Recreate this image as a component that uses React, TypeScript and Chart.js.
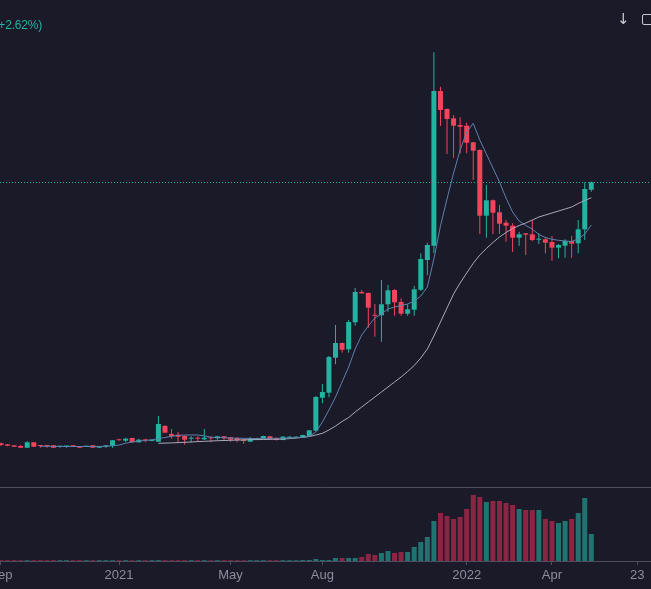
import React, { useEffect, useRef } from 'react';
import { Chart, registerables } from 'chart.js';

Chart.register(...registerables);

// ---- data (weekly candles, price units, volume units) ----
const open = [
  56.7, 55.7, 54.7, 54, 52.3, 57.7, 54.7, 54.7, 54.7, 53.3,
  53.5, 54.7, 53.7, 53.3, 54.7, 52.3, 53.3, 54.3, 60.3, 59.3,
  62, 57.7, 60, 59, 58.3, 74, 66, 65.3, 64, 61.3,
  61.7, 60.7, 62.3, 61.7, 63.7, 62.7, 62, 60.7, 58.3, 60.3,
  61.3, 63.7, 62, 60, 62.3, 62.3, 62.7, 64, 69.3, 102.3,
  107.3, 142.3, 157, 150.7, 177.7, 208, 207, 184.8, 184.7, 195.7,
  210, 198, 186.3, 190.3, 210.3, 240, 254.3, 409, 391, 381.7,
  375, 374.3, 357.7, 350, 284.3, 299.7, 287.7, 277.3, 274.3, 262.3,
  266.7, 265.7, 260.3, 260.7, 258, 252.3, 254.3, 259, 256.7, 270.7, 310.3,
];
const high = [
  57.5, 56, 55, 55, 58.7, 58, 55, 55, 55, 54.3,
  54.3, 55, 54, 54.3, 55, 54, 55, 60, 61.3, 62.3,
  62.3, 61.3, 61.3, 60.5, 84, 75, 71, 68, 64.5, 63.7,
  63.7, 71, 63.7, 64, 64, 63, 63, 61, 63, 62.3,
  64.3, 64, 62.5, 64, 63.7, 63.7, 65.3, 70, 104, 116,
  144, 175, 157.5, 180, 212, 210, 207.5, 196, 220, 215,
  211, 201.7, 195.7, 214, 246.7, 257.3, 447.7, 413.3, 391.5, 385,
  382.7, 377.3, 358, 350.5, 315, 300.5, 295, 280, 276.7, 268.3,
  267, 280, 266.7, 263.3, 264, 256, 260.7, 264, 280, 317.7, 318.5,
];
const low = [
  54, 53.7, 53, 52, 52, 53, 52.3, 52.3, 52, 52.3,
  52.3, 53, 52, 53, 52, 52, 52.3, 52.3, 59.5, 57.7,
  57.5, 57.3, 57.7, 58.7, 58, 67, 61.3, 58, 55.3, 57.7,
  58.3, 60, 57.7, 60.3, 60, 58.3, 57.7, 56.3, 58, 60,
  61, 60.3, 59.5, 59.7, 61.7, 62, 62.3, 63.7, 69, 96.7,
  102.7, 135.7, 147.3, 147.3, 174.3, 206, 172.3, 163.3, 158.3, 188.3,
  184.3, 184.3, 184.3, 184.3, 209, 225, 247, 374, 346, 342.3,
  346.7, 346.7, 320, 266, 262.3, 266, 266, 258.3, 248, 254.3,
  245, 258.7, 256, 246.7, 239.3, 241.7, 242.3, 242.3, 246.7, 260, 308.3,
];
const close = [
  55, 54.3, 53.3, 52.3, 57.7, 53.3, 54, 54, 52.3, 54,
  54, 53.3, 52.3, 54, 52.3, 53.7, 54.7, 59.7, 59.7, 61.3,
  57.7, 60.3, 59.6, 60.3, 76, 67.3, 64, 63.3, 60.3, 61.7,
  61.3, 62.3, 61.7, 63.7, 61.7, 60.3, 60, 59, 61.3, 62,
  64, 60.7, 60, 63.3, 63, 63.3, 65, 69.7, 103, 108,
  143, 157, 150.3, 178, 208, 206.7, 192.3, 184.3, 195.7, 209.7,
  197.7, 186.3, 190.7, 210.7, 241, 255, 409, 390, 381, 374.3,
  373.3, 357.3, 349.3, 284.3, 299.7, 287.3, 276.3, 274.3, 262.3, 265.7,
  265.3, 260, 261, 257.3, 252.3, 255, 259, 256.3, 270.7, 311, 317.7,
];
const volume = [
  0.8, 0.8, 0.8, 0.8, 0.8, 0.8, 0.8, 0.8, 0.8, 0.8,
  0.8, 0.8, 0.8, 0.8, 0.8, 0.8, 0.8, 0.8, 0.8, 0.8,
  0.8, 0.8, 0.8, 0.8, 0.9, 0.9, 0.8, 0.8, 0.8, 0.8,
  0.8, 0.8, 0.8, 0.8, 0.8, 0.8, 0.8, 0.8, 0.8, 0.8,
  0.8, 0.8, 0.8, 0.8, 0.8, 0.8,
  1, 1, 2, 1, 1, 3, 3, 3, 3, 4,
  7, 6, 8, 10, 8, 9, 9, 14, 19, 24,
  40, 48, 45, 42, 44, 52, 66, 64, 59, 60,
  60, 58, 56, 52, 51, 51, 51, 42, 40, 38,
  40, 42, 48, 63, 27,
];
// moving average 7 (from candle 6) and 25 (from candle 24)
const ma7 = [
  null, null, null, null, null, null,
  53.7, 53.7, 53.7, 53.5, 53.5, 53.5, 53.5, 53.5, 53.5, 53.5,
  53.7, 54.2, 55, 56.7, 58, 58.9, 59.6, 60.1, 61.4, 62.5,
  63.7, 64.6, 65, 65, 65, 64.2, 62.7, 62.5, 62.3, 62,
  61.7, 61.7, 61.5, 61.5, 61.7, 61.7, 61.7, 61.7, 62, 62.3,
  62.5, 63.7, 68, 78, 90, 103, 118, 133, 151, 165,
  174, 182, 186, 191, 193, 194.5, 196, 199, 204, 213,
  241, 274, 301, 327, 350, 368, 376.7, 360, 346, 332,
  318, 302, 288, 279, 274.5, 271, 265.5, 262.5, 260.7, 259.7,
  259, 258.5, 261, 266, 275,
];
const ma25 = [
  null, null, null, null, null, null, null, null, null, null,
  null, null, null, null, null, null, null, null, null, null,
  null, null, null, null,
  56.7, 56.9, 57.1, 57.4, 57.7, 58, 58.4, 58.7, 59, 59.3,
  59.5, 59.7, 59.9, 60.1, 60.3, 60.4, 60.5, 60.7, 60.8, 61,
  61.4, 62, 62.7, 63.5, 65, 66.7, 70, 74, 78.5, 82.5,
  88, 93, 98, 103, 108, 113, 118, 123, 128.5, 134.5,
  142, 151, 164, 178, 192, 206, 217, 227, 236.7, 245,
  251.5, 257.5, 263, 267.5, 271.5, 274.5, 277, 280, 283, 285,
  287, 289, 291, 293, 296.5, 299.5, 302.3,
];
const tickLabels = ['Sep', '2021', 'May', 'Aug', '2022', 'Apr', '23'];
const tickIndex = [0, 18, 35, 49, 71, 84, 97];
const changeText = '(+2.62%)';

// ---- styles ----
const BG = '#1a1a29';
const TEAL = '#23b3a0';
const RED = '#f2445b';
const VOL_TEAL = '#1f7370';
const VOL_RED = '#8c2444';
const AXIS = '#4e4e5e';
const LABEL = '#8c8c9c';
const FONT = "'Liberation Sans', Arial, sans-serif";
const PAD_LEFT = 20;
const VOL_PANE_TOP = 74;

export default function App() {
  const ref = useRef<HTMLCanvasElement>(null);

  useEffect(() => {
    document.body.style.margin = '0';
    document.body.style.background = BG;
    const idx = close.map((_, i) => i);
    const up = idx.map((i) => close[i] >= open[i]);
    const bodyColors = up.map((u) => (u ? TEAL : RED));
    const volColors = up.map((u) => (u ? VOL_TEAL : VOL_RED));
    const lastClose = close[close.length - 1];

    const panes = {
      id: 'panes',
      beforeDatasetsDraw(chart: any) {
        const { ctx, chartArea } = chart;
        const ySep = Math.round(chart.scales.v.getPixelForValue(VOL_PANE_TOP)) + 0.5;
        ctx.save();
        ctx.strokeStyle = AXIS;
        ctx.lineWidth = 1;
        ctx.beginPath();
        ctx.moveTo(chartArea.left, ySep);
        ctx.lineTo(chartArea.right, ySep);
        ctx.stroke();
        const yp = Math.round(chart.scales.y.getPixelForValue(lastClose)) + 0.5;
        ctx.strokeStyle = TEAL;
        ctx.setLineDash([1, 2]);
        ctx.beginPath();
        ctx.moveTo(chartArea.left, yp);
        ctx.lineTo(chartArea.right, yp);
        ctx.stroke();
        ctx.restore();
      },
    };

    const chart = new Chart(ref.current as HTMLCanvasElement, {
      type: 'bar',
      data: {
        datasets: [
          {
            type: 'line',
            label: 'MA 7',
            data: idx.filter((i) => ma7[i] !== null).map((i) => ({ x: i, y: ma7[i] })),
            borderColor: '#6180ad',
            borderWidth: 1,
            pointRadius: 0,
            yAxisID: 'y',
            order: 0,
          } as any,
          {
            type: 'line',
            label: 'MA 25',
            data: idx.filter((i) => ma25[i] !== null).map((i) => ({ x: i, y: ma25[i] })),
            borderColor: '#a9aabb',
            borderWidth: 1,
            pointRadius: 0,
            yAxisID: 'y',
            order: 0,
          } as any,
          {
            type: 'bar',
            label: 'body',
            data: idx.map((i) => ({ x: i, y: [open[i], close[i]] })),
            backgroundColor: bodyColors,
            barThickness: 5,
            minBarLength: 1,
            grouped: false,
            inflateAmount: 0,
            yAxisID: 'y',
            order: 1,
          } as any,
          {
            type: 'bar',
            label: 'wick',
            data: idx.map((i) => ({ x: i, y: [low[i], high[i]] })),
            backgroundColor: bodyColors,
            barThickness: 1,
            grouped: false,
            inflateAmount: 0,
            yAxisID: 'y',
            order: 2,
          } as any,
          {
            type: 'bar',
            label: 'volume',
            data: idx.map((i) => ({ x: i, y: volume[i] })),
            backgroundColor: volColors,
            barThickness: 5,
            grouped: false,
            inflateAmount: 0,
            yAxisID: 'v',
            order: 3,
          } as any,
        ],
      },
      options: {
        animation: false,
        responsive: false,
        events: [],
        layout: { padding: { left: PAD_LEFT, right: 0, top: 0, bottom: 0 } },
        plugins: { legend: { display: false }, tooltip: { enabled: false } },
        scales: {
          x: {
            type: 'linear',
            offset: false,
            min: -0.152,
            max: 99.1,
            afterBuildTicks: (s: any) => {
              s.ticks = tickIndex.map((v) => ({ value: v }));
            },
            afterFit: (s: any) => {
              s.height = 28;
            },
            ticks: {
              autoSkip: false,
              maxRotation: 0,
              padding: 3,
              color: LABEL,
              font: { family: FONT, size: 13 },
              callback: (v: any) => {
                const k = tickIndex.indexOf(Number(v));
                return k >= 0 ? tickLabels[k] : '';
              },
            },
            grid: {
              offset: false,
              drawOnChartArea: false,
              drawTicks: true,
              tickLength: 4,
              color: AXIS,
            },
            border: { display: true, color: AXIS },
          },
          y: { display: false, min: -61, max: 500 },
          v: { display: false, min: 0, max: 561 },
        },
      } as any,
      plugins: [panes],
    });
    return () => chart.destroy();
  }, []);

  return (
    <div
      style={{
        position: 'relative',
        width: 651,
        height: 589,
        overflow: 'hidden',
        background: BG,
        fontFamily: FONT,
      }}
    >
      <canvas
        ref={ref}
        width={651 + PAD_LEFT}
        height={589}
        style={{ position: 'absolute', left: -PAD_LEFT, top: 0, width: 651 + PAD_LEFT, height: 589 }}
      />
      <span
        style={{
          position: 'absolute',
          right: 609,
          top: 18,
          fontSize: 12,
          lineHeight: '15px',
          color: TEAL,
          whiteSpace: 'nowrap',
          letterSpacing: '-0.2px',
        }}
      >
        {changeText}
      </span>
      <span
        style={{
          position: 'absolute',
          left: 617,
          top: 10,
          fontSize: 15,
          lineHeight: '18px',
          fontFamily: "'DejaVu Sans', sans-serif",
          color: '#c8c8d2',
        }}
      >
        ↓
      </span>
      <div
        style={{
          position: 'absolute',
          left: 642,
          top: 14,
          width: 11,
          height: 9,
          border: '1.5px solid #c8c8d2',
          borderRadius: 2,
        }}
      />
    </div>
  );
}
